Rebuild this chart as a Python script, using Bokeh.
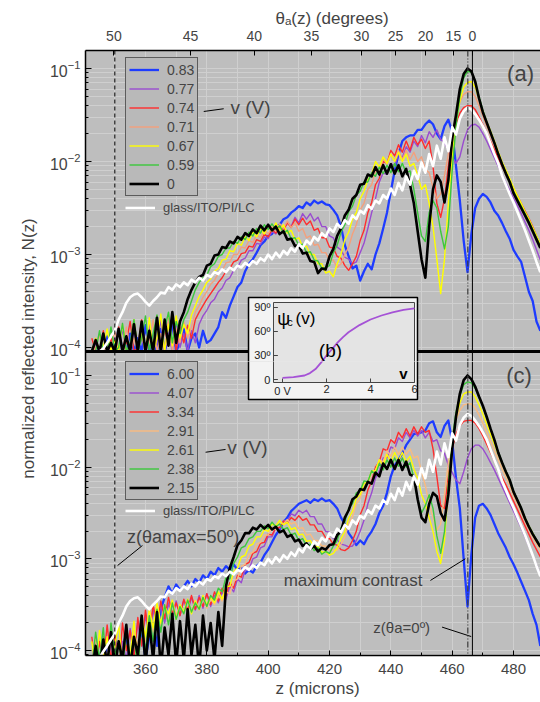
import numpy as np
from bokeh.plotting import figure
from bokeh.layouts import row, column
from bokeh.models import (Range1d, LinearScale, FixedTicker, SingleIntervalTicker, Legend,
                          LegendItem, Span, Label, Title)
from bokeh.core.properties import value
from bokeh.embed import file_html
from bokeh.resources import INLINE

FONT = "Liberation Sans"

# ---------------- data (z in microns, values are log10 N(z)) ----------------
Z = [342.5, 343.75, 345.0, 346.25, 347.5, 348.75, 350.0, 351.25, 352.5, 353.75, 355.0, 356.25,
     357.5, 358.75, 360.0, 361.25, 362.5, 363.75, 365.0, 366.25, 367.5, 368.75, 370.0, 371.25,
     372.5, 373.75, 375.0, 376.25, 377.5, 378.75, 380.0, 381.25, 382.5, 383.75, 385.0, 386.25,
     387.5, 388.75, 390.0, 391.25, 392.5, 393.75, 395.0, 396.25, 397.5, 398.75, 400.0, 401.25,
     402.5, 403.75, 405.0, 406.25, 407.5, 408.75, 410.0, 411.25, 412.5, 413.75, 415.0, 416.25,
     417.5, 418.75, 420.0, 421.25, 422.5, 423.75, 425.0, 426.25, 427.5, 428.75, 430.0, 431.25,
     432.5, 433.75, 435.0, 436.25, 437.5, 438.75, 440.0, 441.25, 442.5, 443.75, 445.0, 446.25,
     447.5, 448.75, 450.0, 451.25, 452.5, 453.75, 455.0, 456.25, 457.5, 458.75, 460.0, 461.25,
     462.5, 463.75, 465.0, 466.25, 467.5, 468.75, 470.0, 471.25, 472.5, 473.75, 475.0, 476.25,
     477.5, 478.75, 480.0, 481.25, 482.5, 483.75, 485.0, 486.25, 487.5, 488.75]

# reference sample glass/ITO/PI/LC (same in both panels)
WHITE = [-4.35, -4.2, -4.08, -4.01, -3.95, -3.88, -3.82, -3.70, -3.62, -3.52, -3.46, -3.43,
         -3.42, -3.46, -3.51, -3.55, -3.50, -3.46,
         -3.41, -3.42, -3.35, -3.38, -3.32, -3.35, -3.30, -3.33, -3.27, -3.30, -3.25, -3.28,
         -3.22, -3.24, -3.19, -3.21, -3.16, -3.19, -3.14, -3.17, -3.12, -3.14, -3.09, -3.12,
         -3.07, -3.10, -3.04, -3.07, -3.00, -3.05, -2.98, -3.03, -2.96, -3.00, -2.93, -2.97,
         -2.89, -2.93, -2.85, -2.89, -2.81, -2.85, -2.77, -2.81, -2.72, -2.76, -2.67, -2.71,
         -2.63, -2.67, -2.58, -2.62, -2.53, -2.56, -2.47, -2.51, -2.42, -2.45, -2.36, -2.40,
         -2.29, -2.36, -2.23, -2.31, -2.16, -2.25, -2.10, -2.19, -2.01, -2.12, -1.92, -2.05,
         -1.83, -1.97, -1.74, -1.89, -1.63, -1.71,
         -1.54, -1.46, -1.42, -1.44, -1.49, -1.55, -1.62, -1.70, -1.81, -1.92, -2.02, -2.15,
         -2.25, -2.35, -2.44, -2.54, -2.64, -2.74, -2.85, -2.96, -3.08, -3.19]

# panel (a): voltages 0.83 ... 0 V
A_BLUE = ([-4.2, -3.95, -4.1, -4.3, -3.88, -4.15, -4.0, -3.8, -4.2, -4.05, -3.85, -4.25,
           -3.9, -4.1, -3.76, -4.2, -3.95, -4.05, -3.8, -4.15, -3.9, -3.74, -4.1, -3.95]
          + [-3.8, -4.1, -3.9, -3.85, -4.0, -3.82, -3.95, -3.92, -3.85, -3.78, -3.62, -3.68,
             -3.55, -3.45, -3.35, -3.30, -3.18, -3.10, -3.05, -2.98, -2.90, -2.86, -2.80, -2.78]
          + [-2.70, -2.68, -2.62, -2.60, -2.55, -2.52, -2.48, -2.50, -2.44, -2.47, -2.42, -2.45,
             -2.43, -2.46, -2.47, -2.52, -2.58, -2.70, -2.90, -3.02, -3.15, -3.12, -3.28, -3.18]
          + [-3.10, -3.16, -3.00, -2.88, -2.72, -2.55, -2.32, -2.10, -1.92, -1.78, -1.74, -1.72,
             -1.72, -1.66, -1.66, -1.60, -1.56, -1.60, -1.70, -1.76, -1.62, -1.55, -1.68, -2.05]
          + [-2.42, -2.85, -3.19, -2.78, -2.50, -2.40, -2.35, -2.38, -2.44, -2.53, -2.58, -2.66,
             -2.75, -2.83, -2.95, -3.02, -3.08, -3.24, -3.40, -3.50, -3.72, -3.82])
A_PURPLE = ([-4.15, -3.95, -4.25, -3.85, -4.1, -4.2, -3.9, -4.05, -3.8, -4.25, -4.0, -3.82,
             -4.2, -3.9, -4.1, -3.75, -4.15, -3.95, -3.7, -4.1, -3.85, -4.05, -3.72, -4.0]
            + [-3.85, -4.05, -3.82, -3.95, -3.75, -3.66, -3.60, -3.52, -3.48, -3.40, -3.36, -3.28,
               -3.25, -3.17, -3.14, -3.06, -3.04, -2.96, -2.96, -2.88, -2.89, -2.81, -2.83, -2.75]
            + [-2.78, -2.70, -2.74, -2.65, -2.70, -2.60, -2.66, -2.56, -2.62, -2.56, -2.64, -2.60,
               -2.70, -2.70, -2.80, -2.82, -2.92, -2.95, -3.03, -3.05, -3.10, -3.08, -2.98, -2.88]
            + [-2.72, -2.55, -2.40, -2.22, -2.12, -2.14, -2.02, -2.05, -1.92, -1.96, -1.84, -1.90,
               -1.78, -1.84, -1.72, -1.80, -1.68, -1.74, -1.66, -1.76, -1.80, -1.88, -1.95, -2.02]
            + [-1.95, -1.78, -1.66, -1.61, -1.60, -1.63, -1.70, -1.78, -1.87, -1.96, -2.05, -2.14,
               -2.23, -2.31, -2.39, -2.47, -2.56, -2.65, -2.74, -2.84, -2.95, -3.06])
A_RED = ([-3.9, -4.2, -4.05, -3.82, -4.3, -3.9, -4.1, -3.78, -4.2, -3.95, -3.72, -4.15,
          -4.0, -3.7, -4.2, -3.86, -4.05, -3.66, -4.15, -3.8, -3.98, -3.64, -4.1, -3.78]
         + [-3.95, -3.76, -3.90, -3.70, -3.62, -3.55, -3.48, -3.42, -3.36, -3.30, -3.25, -3.18,
            -3.15, -3.08, -3.06, -2.99, -2.98, -2.91, -2.92, -2.84, -2.86, -2.78, -2.81, -2.73]
         + [-2.77, -2.69, -2.74, -2.66, -2.71, -2.62, -2.68, -2.61, -2.68, -2.64, -2.74, -2.72,
            -2.82, -2.82, -2.92, -2.93, -3.02, -3.04, -3.12, -3.17, -3.10, -3.02, -2.85, -2.74]
         + [-2.55, -2.44, -2.25, -2.18, -2.00, -2.02, -1.88, -1.94, -1.82, -1.90, -1.78, -1.88,
            -1.74, -1.82, -1.76, -1.86, -1.78, -2.05, -2.45, -2.60, -2.40, -2.05, -1.78, -1.60]
         + [-1.48, -1.42, -1.40, -1.40, -1.44, -1.52, -1.60, -1.69, -1.78, -1.87, -1.96, -2.05,
            -2.13, -2.21, -2.29, -2.37, -2.45, -2.53, -2.61, -2.70, -2.80, -2.90])
A_SALMON = ([-4.2, -4.0, -3.86, -4.25, -3.95, -4.15, -3.8, -4.2, -4.05, -3.78, -4.25, -3.9,
             -4.1, -3.72, -4.2, -3.95, -3.7, -4.15, -3.85, -4.05, -3.68, -4.1, -3.8, -3.95]
            + [-3.72, -3.90, -3.78, -3.62, -3.55, -3.46, -3.40, -3.32, -3.28, -3.20, -3.17, -3.09,
               -3.08, -3.00, -3.00, -2.92, -2.93, -2.85, -2.87, -2.79, -2.82, -2.74, -2.78, -2.70]
            + [-2.75, -2.67, -2.72, -2.64, -2.71, -2.66, -2.75, -2.72, -2.82, -2.80, -2.90, -2.89,
               -2.98, -2.98, -3.06, -3.06, -3.14, -3.10, -3.00, -2.92, -2.78, -2.68, -2.52, -2.45]
            + [-2.30, -2.25, -2.10, -2.12, -1.97, -2.03, -1.92, -1.99, -1.88, -1.98, -1.88, -1.98,
               -1.90, -2.00, -1.95, -2.08, -2.12, -2.28, -2.40, -2.35, -2.15, -1.92, -1.70, -1.50]
            + [-1.36, -1.28, -1.25, -1.25, -1.30, -1.40, -1.51, -1.62, -1.72, -1.82, -1.92, -2.02,
               -2.11, -2.20, -2.29, -2.38, -2.46, -2.55, -2.63, -2.72, -2.81, -2.90])
A_YELLOW = ([-4.1, -3.9, -4.3, -4.0, -3.8, -4.25, -3.92, -4.2, -3.75, -4.15, -4.02, -3.7,
             -4.2, -3.85, -4.1, -3.68, -4.05, -3.9, -3.64, -4.1, -3.75, -3.98, -3.66, -3.9]
            + [-3.75, -3.85, -3.65, -3.55, -3.45, -3.38, -3.30, -3.26, -3.18, -3.15, -3.06, -3.05,
               -2.96, -2.97, -2.88, -2.90, -2.81, -2.85, -2.76, -2.81, -2.72, -2.78, -2.69, -2.75]
            + [-2.66, -2.74, -2.68, -2.77, -2.74, -2.84, -2.82, -2.92, -2.91, -3.00, -3.00, -3.10,
               -3.10, -3.20, -3.18, -3.24, -3.10, -3.00, -2.84, -2.76, -2.62, -2.55, -2.40, -2.32]
            + [-2.20, -2.14, -2.00, -2.06, -1.95, -2.02, -1.92, -2.00, -1.90, -2.00, -1.92, -2.05,
               -2.02, -2.15, -2.30, -2.25, -2.45, -2.70, -3.05, -3.42, -3.05, -2.45, -1.95, -1.58]
            + [-1.35, -1.20, -1.15, -1.14, -1.20, -1.33, -1.46, -1.57, -1.67, -1.78, -1.89, -2.00,
               -2.09, -2.18, -2.28, -2.37, -2.45, -2.54, -2.62, -2.71, -2.80, -2.89])
A_GREEN = ([-4.3, -4.05, -3.82, -4.2, -4.1, -3.78, -4.25, -4.0, -3.74, -4.2, -3.95, -3.7,
            -4.15, -3.9, -3.66, -4.1, -3.85, -3.65, -4.05, -3.8, -3.62, -3.95, -3.72, -3.85]
           + [-3.70, -3.62, -3.50, -3.38, -3.30, -3.25, -3.22, -3.13, -3.10, -3.02, -3.00, -2.93,
              -2.93, -2.86, -2.88, -2.81, -2.84, -2.76, -2.80, -2.72, -2.77, -2.68, -2.73, -2.67]
           + [-2.73, -2.69, -2.77, -2.74, -2.83, -2.82, -2.90, -2.89, -2.98, -2.97, -3.06, -3.07,
              -3.15, -3.14, -3.12, -2.98, -2.90, -2.76, -2.68, -2.54, -2.48, -2.36, -2.32, -2.22]
           + [-2.22, -2.12, -2.16, -2.06, -2.13, -2.04, -2.12, -2.02, -2.11, -2.02, -2.12, -2.10,
              -2.30, -2.55, -2.80, -2.86, -2.55, -2.42, -2.50, -2.75, -2.94, -2.70, -2.10, -1.62]
           + [-1.30, -1.10, -1.03, -1.04, -1.13, -1.30, -1.45, -1.57, -1.68, -1.79, -1.91, -2.02,
              -2.12, -2.21, -2.32, -2.40, -2.48, -2.56, -2.64, -2.73, -2.82, -2.91])
A_BLACK = ([-4.25, -3.92, -4.2, -3.85, -4.22, -3.95, -4.18, -3.80, -4.2, -3.88, -4.15, -3.75,
            -4.2, -3.72, -4.1, -3.82, -4.12, -3.68, -4.05, -3.70, -3.98, -3.62, -3.95, -3.72]
           + [-3.62, -3.48, -3.38, -3.30, -3.24, -3.22, -3.12, -3.10, -3.01, -3.00, -2.92, -2.93,
              -2.86, -2.88, -2.81, -2.84, -2.77, -2.80, -2.73, -2.77, -2.69, -2.74, -2.68, -2.74]
           + [-2.70, -2.78, -2.75, -2.84, -2.83, -2.91, -2.90, -2.99, -2.98, -3.07, -3.08, -3.20,
              -3.15, -3.16, -3.02, -2.94, -2.80, -2.72, -2.58, -2.52, -2.40, -2.36, -2.25, -2.24]
           + [-2.14, -2.16, -2.06, -2.14, -2.04, -2.13, -2.03, -2.13, -2.04, -2.16, -2.08, -2.25,
              -2.45, -2.75, -3.05, -3.25, -2.70, -2.30, -2.15, -2.22, -2.44, -2.20, -1.75, -1.50]
           + [-1.22, -1.06, -1.00, -1.03, -1.14, -1.32, -1.47, -1.58, -1.69, -1.80, -1.92, -2.03,
              -2.13, -2.22, -2.34, -2.42, -2.50, -2.58, -2.66, -2.75, -2.84, -2.93])

# panel (c): voltages 6.00 ... 2.15 V
C_BLUE = ([-4.2, -3.9, -4.1, -4.3, -3.95, -4.15, -3.85, -4.2, -4.0, -3.8, -4.25, -3.9, -4.05,
           -3.75, -4.1, -3.85, -3.70, -3.95, -3.55, -3.42, -3.30, -3.38, -3.28, -3.34]
          + [-3.30, -3.24, -3.30, -3.22, -3.26, -3.18, -3.22, -3.14, -3.18, -3.10, -3.14,
             -3.08, -3.12, -3.06, -3.12, -3.10, -3.16, -3.12, -3.15, -3.08, -3.04, -2.96, -2.90, -2.82]
          + [-2.74, -2.68, -2.60, -2.55, -2.48, -2.44, -2.40, -2.38, -2.36, -2.39, -2.35, -2.37,
             -2.34, -2.37, -2.36, -2.40, -2.45, -2.55, -2.62, -2.72, -2.78, -2.85, -2.80, -2.84]
          + [-2.76, -2.70, -2.62, -2.50, -2.42, -2.28, -2.10, -1.98, -1.92, -1.85, -1.76, -1.70,
             -1.64, -1.63, -1.62, -1.60, -1.52, -1.50, -1.62, -1.67, -1.55, -1.49, -1.72, -2.12]
          + [-2.45, -3.00, -3.52, -2.95, -2.55, -2.42, -2.40, -2.45, -2.52, -2.62, -2.72, -2.80,
             -2.88, -2.98, -3.06, -3.15, -3.25, -3.35, -3.45, -3.60, -3.72, -3.95])
C_PURPLE = ([-4.1, -3.9, -4.25, -3.85, -4.15, -3.95, -3.8, -4.2, -3.9, -4.1, -3.76, -4.05,
             -3.7, -3.95, -3.62, -3.85, -3.55, -3.78, -3.5, -3.7, -3.48, -3.66, -3.46, -3.62]
            + [-3.45, -3.58, -3.42, -3.56, -3.40, -3.54, -3.38, -3.52, -3.40, -3.48, -3.36,
               -3.44, -3.30, -3.36, -3.22, -3.26, -3.12, -3.12, -3.00, -2.98, -2.88, -2.86, -2.76, -2.76]
            + [-2.66, -2.67, -2.58, -2.59, -2.51, -2.53, -2.47, -2.50, -2.47, -2.54, -2.54, -2.62,
               -2.62, -2.70, -2.71, -2.78, -2.79, -2.84, -2.85, -2.87, -2.86, -2.80, -2.70, -2.58]
            + [-2.40, -2.28, -2.12, -2.04, -1.90, -1.90, -1.78, -1.80, -1.68, -1.72, -1.62, -1.68,
               -1.60, -1.66, -1.60, -1.68, -1.62, -1.72, -1.70, -1.82, -1.85, -1.98, -2.06, -2.14]
            + [-2.18, -2.05, -1.90, -1.80, -1.76, -1.76, -1.80, -1.87, -1.95, -2.03, -2.12, -2.21,
               -2.30, -2.39, -2.48, -2.57, -2.66, -2.76, -2.86, -2.96, -3.07, -3.18])
C_RED = ([-3.85, -4.2, -3.9, -4.15, -3.72, -4.1, -3.82, -4.25, -3.7, -4.0, -3.78, -4.1,
          -3.64, -3.95, -3.56, -3.85, -3.5, -3.72, -3.46, -3.65, -3.42, -3.6, -3.48, -3.62]
         + [-3.44, -3.56, -3.40, -3.55, -3.42, -3.52, -3.38, -3.50, -3.36, -3.46, -3.32,
            -3.40, -3.26, -3.32, -3.18, -3.20, -3.06, -3.04, -2.94, -2.92, -2.83, -2.82, -2.73, -2.74]
         + [-2.66, -2.66, -2.59, -2.61, -2.55, -2.58, -2.53, -2.58, -2.56, -2.63, -2.63, -2.70,
            -2.70, -2.77, -2.78, -2.84, -2.85, -2.90, -2.91, -2.88, -2.80, -2.70, -2.52, -2.42]
         + [-2.25, -2.15, -2.00, -1.94, -1.80, -1.82, -1.70, -1.74, -1.62, -1.68, -1.58, -1.66,
            -1.56, -1.64, -1.56, -1.62, -1.60, -1.80, -2.10, -2.42, -2.45, -2.10, -1.80, -1.64]
         + [-1.55, -1.50, -1.49, -1.49, -1.52, -1.58, -1.66, -1.75, -1.84, -1.93, -2.02, -2.11,
            -2.19, -2.28, -2.37, -2.46, -2.55, -2.64, -2.73, -2.82, -2.90, -2.98])
C_ORANGE = ([-4.15, -3.85, -4.25, -3.9, -4.1, -3.76, -4.2, -3.88, -4.05, -3.74, -4.15, -3.8,
             -3.95, -3.66, -3.9, -3.58, -3.8, -3.52, -3.74, -3.5, -3.68, -3.46, -3.62, -3.5]
            + [-3.6, -3.44, -3.58, -3.45, -3.56, -3.42, -3.54, -3.44, -3.5, -3.40, -3.46,
               -3.36, -3.38, -3.24, -3.22, -3.08, -3.06, -2.95, -2.93, -2.84, -2.82, -2.74, -2.74, -2.66]
            + [-2.68, -2.60, -2.62, -2.57, -2.62, -2.60, -2.67, -2.66, -2.74, -2.73, -2.80, -2.80,
               -2.86, -2.86, -2.91, -2.90, -2.91, -2.84, -2.76, -2.62, -2.54, -2.40, -2.34, -2.22]
            + [-2.18, -2.06, -2.04, -1.92, -1.94, -1.82, -1.88, -1.78, -1.86, -1.78, -1.86, -1.80,
               -1.90, -1.88, -2.05, -2.20, -2.40, -2.55, -2.69, -2.62, -2.30, -1.95, -1.65, -1.48]
            + [-1.38, -1.32, -1.31, -1.31, -1.35, -1.43, -1.52, -1.62, -1.72, -1.82, -1.92, -2.02,
               -2.11, -2.20, -2.31, -2.40, -2.49, -2.59, -2.68, -2.76, -2.84, -2.91])
C_YELLOW = ([-3.9, -4.2, -3.78, -4.1, -3.85, -4.25, -3.95, -3.72, -4.15, -3.8, -4.05, -3.68,
             -4.2, -3.62, -3.85, -3.55, -3.75, -3.48, -3.7, -3.52, -3.6, -3.45, -3.66, -3.5]
            + [-3.58, -3.44, -3.6, -3.46, -3.55, -3.40, -3.5, -3.42, -3.48, -3.36, -3.44,
               -3.30, -3.30, -3.14, -3.10, -2.98, -2.96, -2.86, -2.84, -2.76, -2.76, -2.68, -2.70, -2.62]
            + [-2.64, -2.58, -2.63, -2.60, -2.68, -2.66, -2.74, -2.73, -2.81, -2.80, -2.88, -2.86,
               -2.93, -2.92, -2.96, -2.94, -2.88, -2.78, -2.70, -2.56, -2.48, -2.34, -2.30, -2.18]
            + [-2.16, -2.04, -2.04, -1.92, -1.98, -1.86, -1.94, -1.84, -1.93, -1.84, -1.94, -1.88,
               -2.02, -2.12, -2.30, -2.40, -2.55, -2.70, -2.92, -3.05, -2.80, -2.20, -1.72, -1.46]
            + [-1.30, -1.20, -1.18, -1.18, -1.23, -1.32, -1.42, -1.53, -1.64, -1.75, -1.86, -1.96,
               -2.06, -2.15, -2.27, -2.36, -2.45, -2.55, -2.64, -2.72, -2.80, -2.87])
C_GREEN = ([-4.2, -3.8, -4.1, -3.75, -4.25, -3.7, -4.05, -3.9, -4.2, -3.78, -4.1, -3.85,
            -4.2, -3.7, -4.0, -3.62, -3.9, -3.55, -3.8, -3.5, -3.72, -3.48, -3.66, -3.52]
           + [-3.6, -3.45, -3.58, -3.48, -3.55, -3.42, -3.52, -3.40, -3.45, -3.32, -3.36,
              -3.20, -3.22, -3.05, -2.98, -2.88, -2.86, -2.78, -2.76, -2.70, -2.70, -2.64, -2.67, -2.60]
           + [-2.65, -2.62, -2.68, -2.66, -2.74, -2.72, -2.80, -2.78, -2.86, -2.84, -2.91, -2.88,
              -2.95, -2.92, -2.94, -2.86, -2.80, -2.66, -2.60, -2.45, -2.40, -2.28, -2.26, -2.15]
           + [-2.16, -2.04, -2.08, -1.96, -2.03, -1.92, -2.00, -1.90, -1.99, -1.90, -2.00, -1.95,
              -2.12, -2.35, -2.50, -2.42, -2.30, -2.45, -2.75, -2.94, -2.70, -2.20, -1.70, -1.40]
           + [-1.22, -1.10, -1.07, -1.08, -1.14, -1.24, -1.34, -1.46, -1.58, -1.70, -1.83, -1.94,
              -2.04, -2.13, -2.26, -2.35, -2.44, -2.55, -2.64, -2.72, -2.79, -2.86])
C_BLACK = ([-4.25, -3.95, -4.2, -3.88, -4.15, -3.8, -4.2, -3.9, -4.1, -3.72, -4.2, -3.85,
            -4.05, -3.62, -4.15, -3.7, -4.1, -3.58, -4.2, -3.75, -4.05, -3.6, -4.15, -3.68]
           + [-4.1, -3.55, -4.05, -3.72, -4.2, -3.62, -4.0, -3.7, -4.1, -3.58, -3.95,
              -3.30, -3.10, -2.98, -2.85, -2.80, -2.72, -2.72, -2.66, -2.68, -2.63, -2.67, -2.63, -2.68]
           + [-2.65, -2.71, -2.69, -2.76, -2.74, -2.81, -2.79, -2.86, -2.83, -2.89, -2.86, -2.92,
              -2.88, -2.90, -2.85, -2.84, -2.74, -2.70, -2.55, -2.47, -2.35, -2.32, -2.24, -2.25]
           + [-2.16, -2.18, -2.06, -2.10, -1.96, -2.02, -1.92, -2.02, -1.92, -2.03, -1.94, -2.08,
              -2.10, -2.35, -2.55, -2.60, -2.40, -2.28, -2.32, -2.50, -2.58, -2.30, -1.80, -1.45]
           + [-1.20, -1.05, -1.00, -1.04, -1.12, -1.23, -1.33, -1.45, -1.58, -1.70, -1.84, -1.95,
              -2.05, -2.14, -2.27, -2.36, -2.45, -2.56, -2.65, -2.73, -2.80, -2.87])

A_LABELS = ["0.83", "0.77", "0.74", "0.71", "0.67", "0.59", "0"]
C_LABELS = ["6.00", "4.07", "3.34", "2.91", "2.61", "2.38", "2.15"]
A_SERIES = [A_BLUE, A_PURPLE, A_RED, A_SALMON, A_YELLOW, A_GREEN, A_BLACK]
C_SERIES = [C_BLUE, C_PURPLE, C_RED, C_ORANGE, C_YELLOW, C_GREEN, C_BLACK]
A_COLORS = ["#1e3cff", "#9a4cd0", "#ff2d2d", "#f4a07c", "#ffff00", "#3cc83c", "#000000"]
C_COLORS = ["#1e3cff", "#9a4cd0", "#ff2d2d", "#f9ba80", "#ffff00", "#3cc83c", "#000000"]
WIDTHS = [2.3, 1.4, 1.4, 1.4, 1.4, 1.4, 2.6]

# top axis: theta_a(z) tick positions (z) and labels (degrees)
THETA_Z = [349.7, 374.7, 395.5, 414.1, 430.4, 441.5, 451.3, 460.4, 466.6]
THETA_LABELS = ["50", "45", "40", "35", "30", "25", "20", "15", "0"]

Z_THETA_MAX = 350.0      # z(theta_amax = 50)
Z_MAX_CONTRAST = 465.1   # maximum contrast
Z_THETA_ZERO = 466.6     # z(theta_a = 0)

# inset (b): psi_c(v)
PSI_V = [0.0, 0.5, 1.0, 1.25, 1.5, 1.75, 2.0, 2.25, 2.5, 2.75, 3.0, 3.5, 4.0, 4.5, 5.0, 5.5, 6.0]
PSI_C = [2, 3, 5, 8, 13, 21, 30, 38, 46, 53, 59, 68, 75, 80, 84, 87, 89]
INSET_XTICKS = [0, 2, 4, 6]
INSET_XLABELS = ["0 V", "2", "4", "6"]
INSET_YTICKS = [0, 30, 60, 90]
INSET_YLABELS = ["0", "30º", "60º", "90º"]

for s in A_SERIES + C_SERIES + [WHITE]:
    assert len(s) == len(Z), len(s)

BG = "#bebebe"
GRID = "#cfcfcf"
XR = Range1d(340.44, 488.8)

# log10 N extents of each figure frame; panel (a) floor (the visible panel boundary)
A_LOG = (-4.1505, -0.8065)
A_FLOOR = -4.043
C_LOG = (-4.0545, -0.8473)
SPLIT_PSI = 22.5

A_MAJOR = [1e-4, 1e-3, 1e-2, 1e-1]
A_MINOR = [k * 10.0 ** n for n in (-4, -3, -2) for k in range(2, 10)]


def make_fig(height, logs, top, bottom, xloc, iy):
    p = figure(width=500, height=height, x_range=XR,
               y_range=Range1d(10 ** logs[0], 10 ** logs[1]),
               y_axis_type="log", x_axis_location=xloc, toolbar_location=None,
               output_backend="svg", min_border_left=45, min_border_right=0,
               min_border_top=top, min_border_bottom=bottom)
    p.background_fill_color = BG
    p.border_fill_color = "white"
    p.outline_line_color = None
    p.xgrid.ticker = SingleIntervalTicker(interval=10)
    p.grid.grid_line_color = GRID
    p.ygrid.minor_grid_line_color = GRID
    ya = p.yaxis[0]
    ya.major_tick_in = 6
    ya.major_tick_out = 0
    ya.minor_tick_in = 3
    ya.minor_tick_out = 0
    ya.major_label_standoff = 5
    ya.major_label_text_font = FONT
    ya.major_label_text_font_size = "16px"
    ya.axis_line_width = 1.5
    p.extra_x_ranges = {"ix": Range1d(-8.955, 11.727)}
    p.extra_y_ranges = {"iy": Range1d(*iy)}
    p.extra_x_scales = {"ix": LinearScale()}
    p.extra_y_scales = {"iy": LinearScale()}
    return p


fig1 = make_fig(361, A_LOG, 50, 0, "above", (SPLIT_PSI, 411.25))
fig2 = make_fig(341, C_LOG, 0, 47, "below", (-345.0, SPLIT_PSI))

a_ticker = FixedTicker(ticks=A_MAJOR, minor_ticks=A_MINOR)
fig1.yaxis[0].ticker = a_ticker
fig1.ygrid.ticker = a_ticker

# top axis (theta)
ta = fig1.xaxis[0]
ta.ticker = FixedTicker(ticks=THETA_Z, minor_ticks=[])
ta.major_label_overrides = {zv: lab for zv, lab in zip(THETA_Z, THETA_LABELS)}
ta.major_tick_in = 5
ta.major_tick_out = 0
ta.major_label_standoff = 10
ta.major_label_text_font = FONT
ta.major_label_text_font_size = "14px"
ta.axis_line_width = 1.5
fig1.title.text = "θₐ(z) (degrees)"
fig1.title.align = "left"
fig1.title.offset = 190
fig1.title.standoff = 0
fig1.title.text_font = FONT
fig1.title.text_font_size = "17px"
fig1.title.text_font_style = "normal"

# bottom axis (z)
ba = fig2.xaxis[0]
ba.ticker = SingleIntervalTicker(interval=20, num_minor_ticks=2)
ba.major_tick_in = 5
ba.major_tick_out = 0
ba.minor_tick_in = 3
ba.minor_tick_out = 0
ba.major_label_standoff = 8
ba.major_label_text_font = FONT
ba.major_label_text_font_size = "15px"
ba.axis_line_width = 1.5
fig2.add_layout(Title(text="z (microns)", align="left", offset=190, standoff=0,
                      text_font=FONT, text_font_size="17px", text_font_style="normal"), "below")

zarr = np.array(Z)


def draw_panel(p, series, colors, labels, leg_y, glass_y, floor=None):
    def vals(s):
        v = 10 ** np.array(s)
        return v if floor is None else np.maximum(v, 10 ** floor)
    rends = []
    for s, c, w in zip(series, colors, WIDTHS):
        r = p.line(zarr, vals(s), line_color=c, line_width=w, line_join="round")
        rends.append(r)
    rw = p.line(zarr, vals(WHITE), line_color="white", line_width=2.6, line_join="round")
    items = [LegendItem(label=lab, renderers=[r]) for lab, r in zip(labels, rends)]
    common = dict(label_text_font=FONT, glyph_width=30, glyph_height=17, label_height=17,
                  label_standoff=8, spacing=2, padding=3, margin=0)
    leg = Legend(items=items, location=(40, leg_y), label_text_font_size="14px",
                 background_fill_color="#b9b9b9", background_fill_alpha=1.0,
                 border_line_color="black", border_line_width=1.5, **common)
    leg2 = Legend(items=[LegendItem(label="glass/ITO/PI/LC", renderers=[rw])],
                  location=(40, glass_y), label_text_font_size="13px",
                  background_fill_alpha=0.0, border_line_color=None, **common)
    p.add_layout(leg)
    p.add_layout(leg2)
    p.add_layout(Span(location=Z_THETA_MAX, dimension="height", line_color="black",
                      line_dash="4 3", line_width=1))
    p.add_layout(Span(location=Z_MAX_CONTRAST, dimension="height", line_color="#3a3a3a",
                      line_dash="6 2 1 2 1 2", line_width=1.2))
    p.add_layout(Span(location=Z_THETA_ZERO, dimension="height", line_color="black",
                      line_width=1))


def draw_inset(p, upper):
    kw = dict(x_range_name="ix", y_range_name="iy")
    p.quad(left=[-1.545], right=[6.136], bottom=[-25.0], top=[102.5], fill_color="#f3f3f3",
           line_color="black", line_width=1.5, **kw)
    p.quad(left=[-0.41], right=[6.0], bottom=[-3.75], top=[96.25], fill_color="#e4e4e4",
           line_color="#444444", line_width=1, **kw)
    p.segment(x0=[-0.41] * 4, y0=INSET_YTICKS, x1=[-0.21] * 4, y1=INSET_YTICKS,
              line_color="#444444", line_width=1, **kw)
    p.segment(x0=INSET_XTICKS, y0=[-3.75] * 4, x1=INSET_XTICKS, y1=[1.25] * 4,
              line_color="#444444", line_width=1, **kw)
    p.line(PSI_V, PSI_C, line_color="#a552d6", line_width=1.8, **kw)
    tk = dict(text_font=value(FONT), text_font_size="11px", text_color="#222222", **kw)
    if upper:
        p.text(x=[-0.41] * 3, y=INSET_YTICKS[1:], text=INSET_YLABELS[1:], x_offset=-3,
               y_offset=-1, text_align="right", text_baseline="middle", **tk)
        p.text(x=[-0.24], y=[76.25], text=["ψ"], text_align="left", text_baseline="middle",
               text_font=value(FONT), text_font_size="18px", **kw)
        p.text(x=[0.21], y=[71.5], text=["c"], text_align="left", text_baseline="middle",
               text_font=value(FONT), text_font_size="11px", **kw)
        p.text(x=[0.59], y=[76.25], text=["(v)"], text_align="left", text_baseline="middle",
               text_font=value(FONT), text_font_size="17px", **kw)
        p.text(x=[2.18], y=[36.25], text=["(b)"], text_align="center",
               text_baseline="middle", text_font=value(FONT), text_font_size="19px", **kw)
    else:
        p.text(x=[-0.41], y=[INSET_YTICKS[0]], text=[INSET_YLABELS[0]], x_offset=-3,
               text_align="right", text_baseline="middle", **tk)
        p.text(x=INSET_XTICKS, y=[-3.75] * 4, text=INSET_XLABELS, y_offset=2,
               text_align="center", text_baseline="top", **tk)
        p.text(x=[5.5], y=[7.5], text=["v"], text_align="center", text_baseline="middle",
               text_font=value(FONT), text_font_size="15px", text_font_style="bold", **kw)


draw_panel(fig1, A_SERIES, A_COLORS, A_LABELS, 165, 145, floor=A_FLOOR)
draw_panel(fig2, C_SERIES, C_COLORS, C_LABELS, 155, 136)
# visible boundary between panels (a) and (c), drawn under the inset
fig1.hspan(y=[10 ** A_FLOOR], line_color="black", line_width=3)
draw_inset(fig1, True)
draw_inset(fig2, False)


def label(p, x, y, text, size, align="left"):
    p.add_layout(Label(x=x, y=y, text=text, text_font=FONT, text_font_size=size,
                       text_align=align, text_baseline="middle"))


# panel (a) annotations
label(fig1, 387.7, 0.0384, "v (V)", "19px")
fig1.segment(x0=[379.0], y0=[0.0345], x1=[385.5], y1=[0.0369], line_color="black", line_width=1)
label(fig1, 482.3, 0.0883, "(a)", "22px", "center")

# panel (c) annotations
label(fig2, 386.7, 0.01652, "v (V)", "19px")
fig2.segment(x0=[379.6], y0=[0.01455], x1=[386.1], y1=[0.01560], line_color="black", line_width=1)
label(fig2, 481.8, 0.100, "(c)", "22px", "center")
label(fig2, 354.0, 0.00172, "z(θamax=50º)", "18px")
fig2.segment(x0=[350.9], y0=[0.000845], x1=[359.0], y1=[0.001396], line_color="black", line_width=1)
label(fig2, 427.7, 0.000581, "maximum contrast", "17px", "center")
fig2.segment(x0=[452.9], y0=[0.000581], x1=[464.3], y1=[0.001002], line_color="black", line_width=1)
label(fig2, 434.3, 0.000180, "z(θa=0º)", "15px")
fig2.segment(x0=[456.7], y0=[0.000180], x1=[466.2], y1=[0.000142], line_color="black", line_width=1)

# shared y label
pl = figure(width=40, height=702, x_range=(0, 1), y_range=(0, 1), x_axis_type=None,
            y_axis_type=None, toolbar_location=None, output_backend="svg", min_border=0)
pl.outline_line_color = None
pl.grid.visible = False
pl.add_layout(Label(x=28, y=354, x_units="screen", y_units="screen",
                    text="normalized reflected intensity, N(z)", angle=90, angle_units="deg",
                    text_align="center", text_baseline="middle", text_font=FONT,
                    text_font_size="17px"))

layout = row(pl, column(fig1, fig2))
open("out.html", "w").write(file_html(layout, INLINE))
